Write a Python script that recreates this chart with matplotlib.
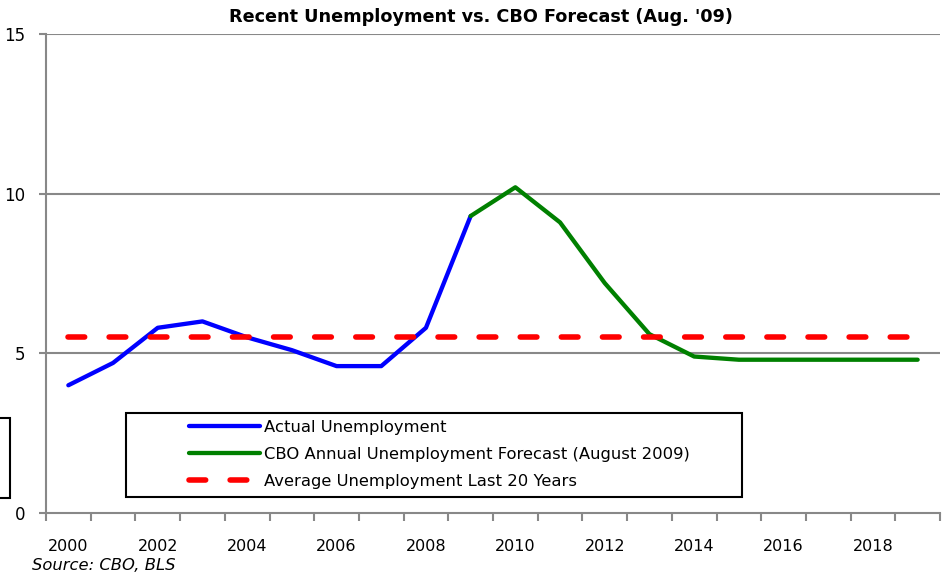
import matplotlib
matplotlib.use("Agg")
import matplotlib.pyplot as plt
from matplotlib.patches import Rectangle
import numpy as np

years = list(range(2000, 2020))
actual_years = list(range(2000, 2010))
actual = [4.0, 4.7, 5.8, 6.0, 5.5, 5.1, 4.6, 4.6, 5.8, 9.3]
cbo_years = list(range(2009, 2020))
cbo = [9.3, 10.2, 9.1, 7.2, 5.6, 4.9, 4.8, 4.8, 4.8, 4.8, 4.8]
avg_value = 5.5
tick_labels = [str(y) for y in range(2000, 2020, 2)]

plt.rcParams['font.family'] = ['DejaVu Sans']

W, H = 948, 580
fig = plt.figure(figsize=(W / 100, H / 100), dpi=100)
ax = fig.add_axes([46 / W, (H - 513) / H, (940 - 46) / W, (513 - 34) / H])

grey = '#888888'
idx = {y: i for i, y in enumerate(years)}
ax.plot([idx[y] for y in actual_years], actual, color='#0000FF', lw=3.1,
        solid_capstyle='round', solid_joinstyle='round', label='Actual Unemployment', zorder=3)
ax.plot([idx[y] for y in cbo_years], cbo, color='#008000', lw=3.1,
        solid_capstyle='round', solid_joinstyle='round',
        label='CBO Annual Unemployment Forecast (August 2009)', zorder=4)
ax.plot([0, len(years) - 1], [avg_value, avg_value], color='#FF0000', lw=4.0,
        dashes=(3.0, 4.4), dash_capstyle='round', label='Average Unemployment Last 20 Years', zorder=5)

ax.set_xlim(-0.5, len(years) - 0.5)
ax.set_ylim(0, 15)
ax.set_yticks([0, 5, 10, 15])
ax.set_yticklabels(['0', '5', '10', '15'])
ax.set_xticks(np.arange(-0.5, len(years), 1.0), minor=False)
ax.set_xticklabels([])
ax.set_xticks([idx[int(t)] for t in tick_labels], minor=True)
ax.set_xticklabels(tick_labels, minor=True)
ax.tick_params(axis='x', which='minor', length=0, pad=19, labelsize=11.5)
ax.tick_params(axis='x', which='major', length=6, color=grey, width=1.5, direction='out')
ax.tick_params(axis='y', length=5, color=grey, width=1.5, direction='out', pad=10, labelsize=12)

for yv in [5, 10, 15]:
    ax.axhline(yv, color=grey, lw=1.5, zorder=1)
for s in ['top', 'right']:
    ax.spines[s].set_visible(False)
for s in ['left', 'bottom']:
    ax.spines[s].set_color(grey)
    ax.spines[s].set_linewidth(1.5)

fig.text(481 / W, 1 - 17 / H, "Recent Unemployment vs. CBO Forecast (Aug. '09)",
         ha='center', va='center', fontsize=12.7, fontweight='bold')
fig.text(32 / W, 1 - 566 / H, 'Source: CBO, BLS', ha='left', va='center',
         fontsize=11.8, style='italic')

# legend box
fig.patches.append(Rectangle((126 / W, 1 - 497 / H), (742 - 126) / W, (497 - 413) / H,
                             transform=fig.transFigure, fill=True, facecolor='white',
                             edgecolor='black', lw=1.5, zorder=6))
# partial box on left edge
fig.patches.append(Rectangle((-10 / W, 1 - 498 / H), 20 / W, (498 - 418) / H,
                             transform=fig.transFigure, fill=False,
                             edgecolor='black', lw=1.5, zorder=6))

leg = fig.legend(loc='upper left', bbox_to_anchor=(176 / W, 1 - 407 / H),
                 frameon=False, fontsize=11.8, handlelength=4.3, handletextpad=0.3,
                 labelspacing=0.72, borderpad=0.3)
leg.set_zorder(7)

fig.savefig('out.png', dpi=100)
